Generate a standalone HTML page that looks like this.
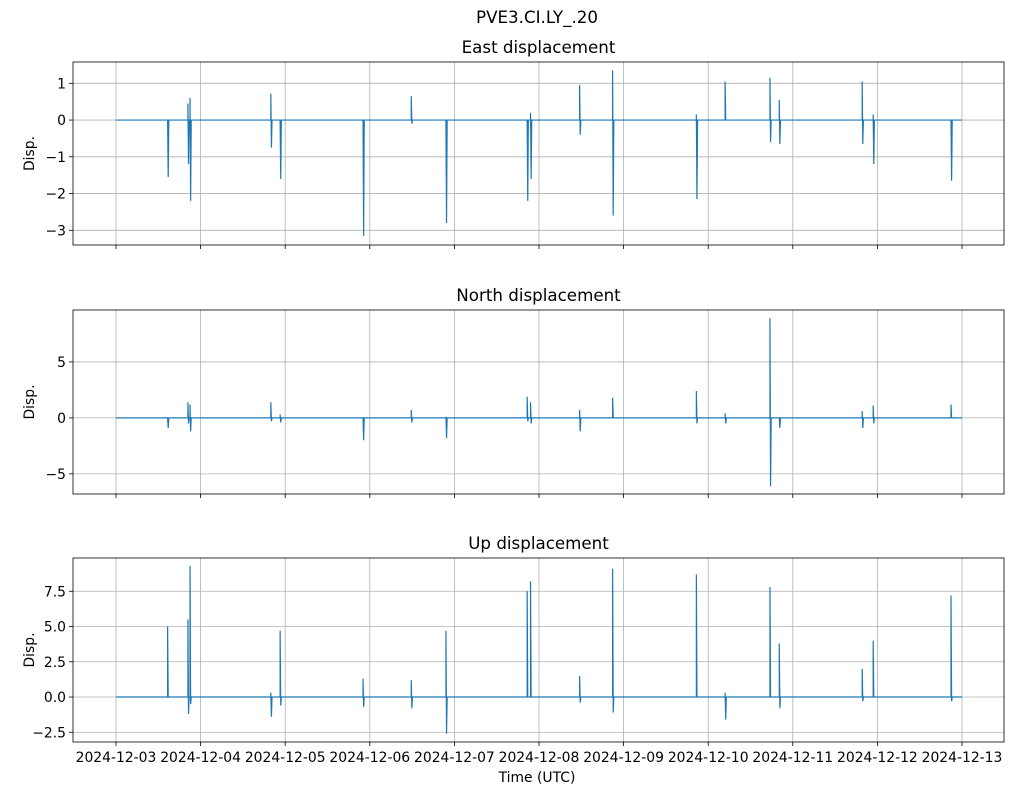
<!DOCTYPE html>
<html><head><meta charset="utf-8"><style>
body{margin:0;background:#fff}
svg{font-family:"DejaVu Sans","Liberation Sans",sans-serif}
</style></head><body>
<svg id="fig" width="1012" height="795" xmlns="http://www.w3.org/2000/svg">
<rect width="1012" height="795" fill="#fff"/>
<text x="537" y="23" text-anchor="middle" font-size="16.7">PVE3.CI.LY_.20</text>
<text x="537" y="782" text-anchor="middle" font-size="13.9">Time (UTC)</text>
</svg>
<script>
const xTickLabels=["2024-12-03","2024-12-04","2024-12-05","2024-12-06","2024-12-07","2024-12-08","2024-12-09","2024-12-10","2024-12-11","2024-12-12","2024-12-13"];
const eventDays=[0.61,0.85,0.875,1.83,1.94,2.92,3.49,3.90,4.86,4.9,5.48,5.87,6.86,7.20,7.73,7.84,8.82,8.95,9.87];
const eastMax=[0,0.45,0.6,0.72,0,0,0.65,-0.1,0,0.2,0.95,1.35,0.15,1.05,1.15,0.55,1.05,0.15,0];
const eastMin=[-1.55,-1.2,-2.2,-0.75,-1.6,-3.15,-0.1,-2.8,-2.2,-1.6,-0.4,-2.6,-2.15,0,-0.6,-0.65,-0.65,-1.2,-1.65];
const northMax=[0,1.4,1.2,1.4,0.3,0,0.7,0.1,1.9,1.4,0.7,1.8,2.4,0.4,8.9,0,0.6,1.1,1.2];
const northMin=[-0.9,-0.5,-1.2,-0.3,-0.4,-2.0,-0.4,-1.8,-0.3,-0.5,-1.2,0,-0.5,-0.5,-6.1,-0.9,-0.9,-0.5,0];
const upMax=[5.0,5.5,9.3,0.3,4.7,1.3,1.2,4.7,7.5,8.2,1.5,9.1,8.7,0.3,7.8,3.8,2.0,4.0,7.2];
const upMin=[0,-1.2,-0.5,-1.4,-0.6,-0.7,-0.8,-2.6,0,0,-0.4,-1.1,0,-1.6,0,-0.8,-0.3,0,-0.3];
const eastTicks=[1,0,-1,-2,-3], northTicks=[5,0,-5], upTicks=[7.5,5,2.5,0,-2.5];

const NS="http://www.w3.org/2000/svg", svg=document.getElementById('fig');
function mk(t,a,p){const e=document.createElementNS(NS,t);for(const k in a)e.setAttribute(k,a[k]);(p||svg).appendChild(e);return e;}
const L=73,R=1004;
const xs=d=>116+d*84.6;
const panels=[
 {title:"East displacement",top:62,bot:245,ymin:-3.4,ymax:1.58,ticks:eastTicks,mx:eastMax,mn:eastMin,fmt:v=>v<0?"\u2212"+(-v):""+v,name:"east"},
 {title:"North displacement",top:310,bot:494,ymin:-6.8,ymax:9.64,ticks:northTicks,mx:northMax,mn:northMin,fmt:v=>v<0?"\u2212"+(-v):""+v,name:"north"},
 {title:"Up displacement",top:558,bot:742,ymin:-3.19,ymax:9.86,ticks:upTicks,mx:upMax,mn:upMin,fmt:v=>(v<0?"\u2212":"")+Math.abs(v).toFixed(1),name:"up"}
];
panels.forEach((p,pi)=>{
 const g=mk('g',{});
 
 
 const ys=v=>p.bot-(v-p.ymin)/(p.ymax-p.ymin)*(p.bot-p.top);
 const t=mk('text',{x:(L+R)/2,y:p.top-9,'text-anchor':'middle','font-size':16.7},g);t.textContent=p.title;
 
 xTickLabels.forEach((lab,i)=>{
  const x=xs(i);
  mk('line',{x1:x,x2:x,y1:p.top,y2:p.bot,stroke:'#b0b0b0','stroke-width':0.8},g);
  mk('line',{x1:x,x2:x,y1:p.bot,y2:p.bot+4,stroke:'#000','stroke-width':0.8},g);
  if(pi==2){const tx=mk('text',{x:x,y:p.bot+20,'text-anchor':'middle','font-size':13.9},g);tx.textContent=lab;
   }
 });
 p.ticks.forEach(v=>{
  const y=ys(v);
  mk('line',{x1:L,x2:R,y1:y,y2:y,stroke:'#b0b0b0','stroke-width':0.8},g);
  mk('line',{x1:L-4,x2:L,y1:y,y2:y,stroke:'#000','stroke-width':0.8},g);
  const ty=mk('text',{x:L-7,y:y+5,'text-anchor':'end','font-size':13.9},g);ty.textContent=p.fmt(v);
  
 });
 const yl=mk('text',{x:0,y:0,'text-anchor':'middle','font-size':13.9,transform:`translate(34,${(p.top+p.bot)/2}) rotate(-90)`},g);yl.textContent="Disp.";
 
 let d=`M${xs(0)},${ys(0)}`;
 eventDays.forEach((t,i)=>{
  d+=` L${xs(t)},${ys(0)} L${xs(t)},${ys(p.mx[i])} L${xs(t)+0.6},${ys(p.mn[i])} L${xs(t)+1.2},${ys(0)}`;
 });
 d+=` L${xs(10)},${ys(0)}`;
 const path=mk('path',{d:d,fill:'none',stroke:'#1f77b4','stroke-width':1.2},g);
 
 mk('rect',{x:L,y:p.top,width:R-L,height:p.bot-p.top,fill:'none',stroke:'#000','stroke-width':0.8},g);
});
</script>
</body></html>
